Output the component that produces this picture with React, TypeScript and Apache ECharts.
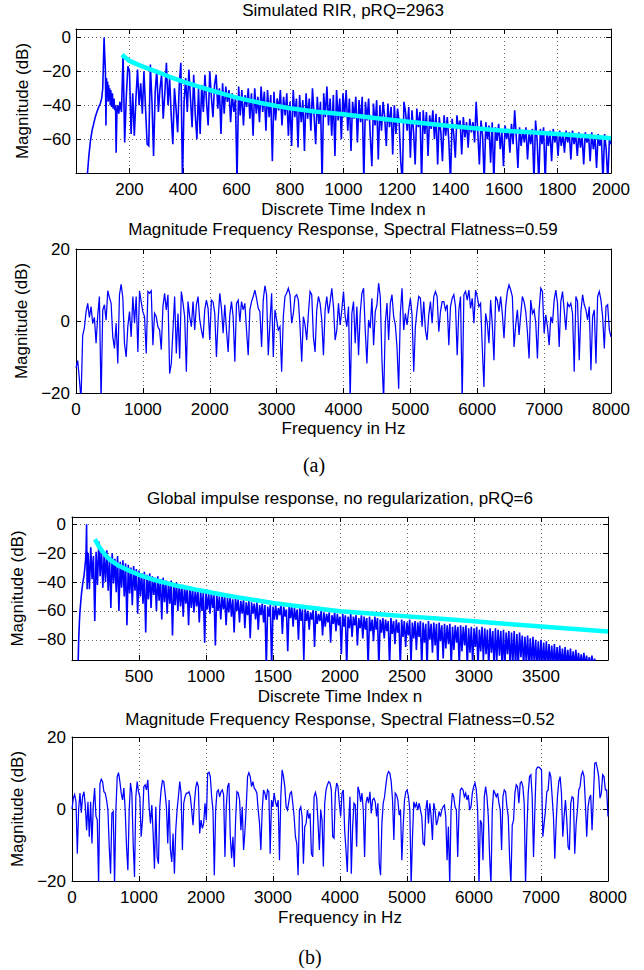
import { useEffect, useRef } from 'react';
import * as echarts from 'echarts';

// ---------- (a) Simulated RIR: magnitude (dB) vs discrete time index ----------
const rirAHeadN = [40, 43, 48, 54, 60, 66, 72, 78, 85, 91, 96, 100, 103, 105, 107, 110, 112, 114, 116, 118, 120, 122, 124, 126, 128, 130, 133, 136, 139, 142, 145, 148, 150, 153, 156, 160, 164];
const rirAHeadDb = [-88, -80, -70, -61, -55, -51, -47, -44, -41, -39, -36, -30, -12, 0, -9, -20, -52, -24, -35, -26, -38, -28, -37, -30, -40, -31, -41, -33, -42, -36, -43, -40, -68, -44, -40, -45, -38];
const rirAStart = 170;
const rirAEnd = 2000;
const rirADb = [
  -44, -10, -62, -35, -17, -20, -57, -33, -58, -36,
  -19, -40, -27, -45, -20, -42, -63, -64, -16, -38,
  -70, -32, -19, -44, -30, -22, -48, -33, -15, -40,
  -24, -46, -63, -30, -42, -56, -28, -15, -85, -38,
  -24, -44, -19, -36, -53, -22, -46, -60, -30, -57,
  -28, -44, -22, -38, -52, -20, -35, -47, -28, -22,
  -42, -30, -57, -27, -45, -29, -38, -31, -50, -33,
  -44, -36, -85, -29, -46, -31, -52, -34, -41, -30,
  -48, -33, -58, -30, -45, -35, -50, -29, -44, -32,
  -55, -31, -47, -34, -73, -32, -49, -36, -43, -31,
  -52, -35, -46, -33, -58, -38, -64, -31, -47, -36,
  -65, -34, -50, -37, -67, -33, -48, -36, -55, -30,
  -46, -63, -35, -51, -38, -85, -33, -47, -29, -52,
  -36, -58, -34, -70, -31, -49, -36, -60, -33, -47,
  -31, -55, -36, -67, -38, -48, -35, -62, -37, -50,
  -35, -85, -38, -49, -36, -58, -76, -39, -52, -37,
  -72, -40, -55, -38, -47, -64, -39, -53, -41, -69,
  -40, -57, -42, -50, -73, -85, -38, -44, -55, -41,
  -71, -43, -56, -75, -42, -53, -44, -85, -43, -57,
  -44, -70, -46, -54, -43, -60, -45, -75, -47, -56,
  -73, -46, -58, -47, -62, -85, -48, -57, -71, -46,
  -54, -49, -69, -47, -59, -50, -65, -48, -56, -50,
  -62, -38, -56, -75, -49, -58, -85, -50, -60, -52,
  -74, -50, -85, -53, -61, -51, -66, -55, -76, -52,
  -60, -54, -68, -51, -63, -43, -59, -77, -53, -64,
  -55, -62, -53, -72, -56, -63, -54, -85, -49, -61,
  -85, -54, -63, -53, -85, -56, -64, -55, -73, -54,
  -62, -56, -70, -55, -64, -57, -68, -55, -62, -56,
  -72, -55, -63, -57, -70, -56, -65, -58, -75, -56,
  -62, -57, -73, -56, -66, -58, -77, -57, -64, -59,
  -85, -57, -66, -85, -60, -63,
];
const decayAN = [172, 185, 200, 225, 250, 275, 300, 350, 400, 450, 500, 550, 600, 650, 700, 750, 800, 900, 1000, 1100, 1200, 1300, 1400, 1500, 1600, 1700, 1800, 1900, 2000];
const decayADb = [-10.2, -12, -13.8, -15.6, -17.2, -18.7, -20.1, -23.2, -26, -28.6, -31, -33.3, -35.5, -37.3, -39, -40.5, -41.8, -43.8, -45.3, -47.2, -49, -50.6, -52.2, -53.7, -55, -56, -57, -58.2, -59.5];

// ---------- (a) Magnitude frequency response, 0..8000 Hz uniform bins ----------
const specAMaxHz = 8000;
const specADb = [
  -13, -11, -16, -22, -4, -2, 2.5, 4.9, 1, 4,
  -0.7, 1, -6.2, 1.5, 6.8, -22, 3, 4.5, 0.2, 8.4,
  6.5, 5, -4.4, -7.6, -0.6, -11.8, 7.3, 10.2, 6.5, -6.2,
  -10, -1.5, 2.6, -4.4, 6.8, -0.6, 6.8, -8.6, 8.4, 5.3,
  2.6, 1.2, -9, 8.2, 7.7, 8.4, -6.7, 2.1, 1.2, -1.6,
  -2.5, -8, 4, 7.7, 3.1, 7.3, -14.6, -11.8, -2.5, 6.8,
  -9, 2.1, -10.4, 8.2, 5, 1.2, -14.1, 5.4, 1.2, -1.6,
  5.4, -2.5, 4.5, 6.8, 0.3, -2.5, -4.8, 3.1, 5.8, 3.5,
  -5.3, 5.8, 5.3, 2.1, -10, 0.3, 7.7, 3.5, -3.4, 4.5,
  -2.5, -8.6, 1.7, 5.4, 1.2, -11.3, 4.9, 5.8, -0.2, 5.4,
  3.1, 4.9, -2.5, -9.5, 3.1, 5.4, 6.8, 8.6, 6.3, 3.5,
  2.6, -7.2, 5.8, 9.8, 7.3, -9.5, -0.6, 7.7, -10, 3.1,
  0.3, -2.5, -1.6, -14.1, 1.2, 6.8, 7.7, 9.1, 7.3, -0.6,
  2.1, 6.8, 7.3, 5.8, -1.6, -11.3, 1.2, -1.1, -5.3, 2.1,
  8.2, 7.3, -4.4, -8.6, 3.1, 6.8, 4.9, 0.3,
  -9.5, 3.1, 6.8, 2.1, 5.4, 9.1, 4, -5.3, -2.5, 4.9, -1.1, 3.1,
  8.2, 1.2, -1.6, 4, -22, 2.1, 5.4, -6.2, 4, -9.5,
  2.1, 7.7, 9.1, -2.5, -11.8, 0.3, -2, 6.3, -6.7, 2.6,
  4.5, 10.5, 6.8, -10.9, -22, -0.6, 5, -5.3, 4.9, 7.3,
  1.2, -1.1, -7.2, -18.8, 2.1, 9.1, -2.5, 2.1, -1.1, 3.1,
  6.3, 1.7, -14.1, -1.6, 3.1, 6.8, 6.3, -1.6, 5.4, -2.5,
  -5.3, 1.7, 5.4, -0.6, 6.8, 8.2, 6.8, -3, 2.6, 5.4,
  5.4, 3.1, 4.5, -6.7, 4, 6.3, 7.3, 4, -9.5, 3.1,
  6.8, -22, 7.3, 8.2, 5.8, 8.6, 3.5, 6.3, -0.6, 8.6,
  6.8, 4, 4.9, -7.2, -18.3, 2.1, -0.6, -6.2, 5.8, -1.1,
  -10.9, 6.8, 5.8, 2.6, 6.8, 2.1, -4.8, 4, 8.2, 10,
  8.6, 6.8, -7.2, -1.1, 3.1, -3.9, 1.7, 6.8, 5.4, 2.6,
  -3, -10.4, 5.8, 2.1, 3.1, -0.6, -10.4, 3.1, 9.1, 8.2,
  -3.4, 1.7, -1.6, -6.7, 1.2, -0.6, 5.8, 8.6, 4.9, -7.2,
  5.4, 8.2, 3.1, -2.5, 4.9, 4, 4.9, 2.1, -14.1, 6.8,
  5.4, -10.9, 2.6, 7.3, 4.5, 3.1, 0.3, 4, -13.7, 1.2,
  3.1, -11.8, 6.8, 8.2, 5.8, 1.2, -7.6, 4, 4.5, -2.5, -4.4,
];

// ---------- (b) Global impulse response ----------
const rirBHeadN = [45, 50, 55, 59, 66, 72, 80, 89, 96, 101, 105, 109, 111, 113, 115, 117];
const rirBHeadDb = [-99, -80, -68, -61, -53, -47, -41, -36, -30, -25, -18, 0, -25, -45, -19, -40];
const rirBStart = 120;
const rirBEnd = 3930;
const rirBDb = [
  -20, -45, -16, -38, -22, -67, -19, -42, -12, -36,
  -17, -44, -21, -40, -18, -46, -23, -58, -20, -41,
  -24, -47, -22, -60, -26, -44, -25, -50, -27, -70,
  -28, -48, -30, -56, -29, -46, -31, -62, -32, -50,
  -34, -55, -33, -75, -35, -52, -34, -58, -36, -49,
  -37, -60, -36, -53, -38, -66, -37, -54, -39, -62,
  -40, -55, -39, -77, -41, -56, -40, -60, -42, -57,
  -42, -64, -43, -55, -44, -70, -43, -58, -45, -61,
  -45, -57, -46, -68, -46, -60, -47, -82, -47, -59,
  -48, -62, -47, -58, -49, -84, -48, -60, -50, -66,
  -49, -59, -50, -70, -51, -61, -50, -64, -52, -75,
  -51, -60, -52, -68, -53, -62, -52, -72, -54, -63,
  -53, -79, -54, -62, -55, -66, -54, -73, -56, -63,
  -55, -68, -56, -99, -57, -64, -56, -99, -57, -66,
  -56, -66, -58, -63, -55, -76, -57, -64, -59, -88,
  -57, -65, -56, -71, -58, -66, -59, -80, -57, -67,
  -59, -94, -58, -67, -60, -73, -61, -66, -59, -85,
  -60, -69, -62, -67, -60, -77, -61, -71, -62, -68,
  -61, -82, -63, -69, -61, -74, -62, -70, -64, -90,
  -62, -71, -63, -99, -64, -72, -62, -78, -64, -70,
  -63, -84, -65, -72, -63, -79, -64, -73, -65, -99,
  -64, -74, -66, -81, -64, -73, -65, -99, -66, -75,
  -65, -79, -66, -74, -67, -99, -65, -76, -67, -83,
  -66, -75, -68, -99, -66, -78, -67, -85, -68, -77,
  -66, -96, -68, -79, -67, -87, -68, -78, -67, -99,
  -68, -82, -69, -99, -67, -80, -69, -89, -68, -84,
  -69, -99, -68, -81, -70, -93, -69, -86, -70, -83,
  -69, -99, -71, -87, -70, -82, -71, -99, -70, -88,
  -71, -84, -70, -99, -72, -89, -71, -97, -72, -85,
  -71, -99, -73, -88, -71, -94, -72, -90, -73, -99,
  -72, -89, -74, -99, -72, -95, -73, -91, -74, -99,
  -73, -99, -75, -90, -74, -99, -75, -96, -74, -99,
  -76, -99, -75, -92, -77, -99, -78, -96, -77, -99,
  -79, -99, -78, -97, -80, -99, -81, -99, -80, -99,
  -82, -99, -81, -99, -83, -98, -84, -99, -83, -99,
  -85, -99, -84, -99, -86, -99, -85, -99, -87, -99,
  -86, -99, -88, -99, -87, -99, -89, -99, -90, -99,
  -89, -99, -91, -99, -92, -99, -91, -99, -93, -99, -95, -99,
];
const decayBN = [171, 190, 209, 230, 250, 284, 320, 350, 400, 450, 500, 550, 600, 650, 707, 775, 850, 925, 1003, 1125, 1250, 1375, 1500, 1625, 1750, 1875, 2000, 2250, 2500, 2750, 3000, 3250, 3500, 3750, 4000];
const decayBDb = [-10.4, -13.6, -16.6, -19.2, -21.5, -24.7, -27, -28.8, -31, -33.1, -35, -36.7, -38.2, -39.5, -40.8, -42.4, -43.8, -45.3, -46.6, -48.8, -50.8, -52.7, -54.5, -56, -57.5, -58.9, -60.2, -62, -63.8, -65.5, -67.2, -69, -70.8, -72.5, -74.2];

// ---------- (b) Magnitude frequency response, 0..8000 Hz uniform bins ----------
const specBMaxHz = 8000;
const specBDb = [
  0, 3, 4, 2, -12.4, 0, 4.4, -1, 3.5, 4.8, 1, -5.9, 2, -7.7, 2, -9.6, 1, 5.8, -2, -3, -21,
  7, 8.3, 7.6, 4.8, 4.4, 2.5, -0.3, -10.5, -18, -1.2,
  -0.7, -21, -0.3, 9, 10.1, 7.6, 4.4, 2.5, 5.8, -0.3,
  -10.5, -17, -0.3, 7.2, 4.4, -9.6, -18.9, 3.4, 7.6, 4.8,
  3.4, -7.7, -3.1, 6.2, 6.7, 5.3, 8.1, 0.6, -4, 1.1,
  -6.8, -16.6, 0.6, -13.3, -15.2, 0.6, 5.3, 7.9, 7.6, 4.4,
  0.6, -9.6, 2.5, -11.4, -14.7, -6.8, -18, -5.9, -0.3, 3.4,
  7.6, 4.4, -11.4, 1.6, 3.4, 4.4, 4.4, 4.8, 3.4, -0.3,
  -4.5, 1.6, 5.8, 7.6, 6.2, -6.8, -3.1, -5.4, -4, 1.6,
  -3.1, 9.9, 10.2, 9, 3.4, -0.3, -18.4, -0.3, 4.8, 5.3,
  3.4, 4.8, 5.3, 3.9, -13.3, 0.6, 6.2, 7.2, -7.7, -13.7,
  -7.7, -16.1, -3.1, 4.8, 4.4, 2.5, -5.9, 0.6, -11.4, -6.3,
  0.6, 9, 10.1, 9, 6.2, 7.6, 5.8, 5.3, 4.4, -0.3,
  -4, -11.4, -0.3, 5.3, 4.4, 2.5, 5.3, 4.8, -12.4, 2.5,
  0.6, 4.4, 2, 0.6, 2.5, -14.2, 3.4, 10.9, 9, 6.2,
  0.6, -0.3, 2, 4.4, 4.8, 1.6, -2.1, -7.7, -9.6, -18.4,
  -0.3, 0.6, -2.1, -15.2, -4.9, -4, -0.3, -2.6, -1.2, -12.4,
  -13.3, 3.4, 4.6, 3, -4, -11.4, -0.3, -3.1,
  -16, 1.6, 5.3, 6.7, 7.6, 7.2, 5.3, -7.7, -8.1, 4.4,
  7.2, 6.2, 1.6, -2.1, 4.4, 5.3, -5.9, -11.4, -17.5, -4,
  3.4, -18, -4.9, 1.6, 1.1, -10.5, 6.2, 4.8, 2, 4.4,
  -0.3, -13.3, 1.6, 3.4, 1.6, 4.8, -1.2, 2.5, 3, 2,
  -2.1, 1.6, -15.2, -18.4, -4, 1.6, 3.4, 6.7, 9.5, 10.4,
  9.9, 7.6, 2.5, -8.6, 4.4, 3.9, 2.5, -1.7, -0.3, -14.2,
  -4.9, 2.5, 4.8, 5.3, 3.4, -0.3, -21, -7.7, 2, 0.6,
  1.6, -0.3, 1.6, -0.3, -2.1, -9.6, -10, -0.3, 2.5, -4,
  1.6, -2.1, -8.6, 1.6, -0.3, -4.5, -3.1, -0.7, -2.1, -0.3,
  0.6, 1.1, -2.1, -14.2, -4.9, -21, -0.3, 4.4, 3.4, 0.6,
  -0.3, -13.3, -0.3, 5.3, 5.8, 5.3, 3.4, 4.4, 2.5, 3.9,
  -0.3, 0.6, 4.4, 6.2, 7.2, 5.3, -0.3, -21, -3.1, -4,
  -14.2, 3.4, 6.2, 3.4, -2.1, -13.3, -21, -0.3, 5.3, 4.4,
  3.4, 4.4, 1.6, -0.3, -11.4, 3.4, 5.3, 4.8, 0.6, -2.1,
  -13.3, -21, -4.5, -3.1, 4.4, 6.7, 6.2, 1.6, 7.2, 7.6,
  6.2, 1.6, -21, -5.9, 4.4, 9, 9.5, 3.4, -13.3, -0.3,
  10.9, 11.6, 11.6, 11.3, 10.9, -7.7, -4, -0.3, 4.8, 5.3,
  10.4, 9, 3.4, -2.1, -13.8, -4, 3.4, 7.6, 9, 4.4,
  -7.7, -2.1, 2.5, -3.1, -10.5, -11.4, 1.6, 3.4, 3, -12.4,
  -4.5, -0.3, 5.3, 6.2, 9.5, 10.4, 9, 1.6, -7.7, 0.6,
  3, 3.9, -5.9, 3, 12.7, 12.9, 11.3, 9, 3, 4.4,
  9.5, 9, 5.3, 5.3, -2.1,
];

// ---------- texts ----------
const titles = [
  'Simulated RIR, pRQ=2963',
  'Magnitude Frequency Response, Spectral Flatness=0.59',
  'Global impulse response, no regularization, pRQ=6',
  'Magnitude Frequency Response, Spectral Flatness=0.52',
];
const xNames = ['Discrete Time Index n', 'Frequency in Hz', 'Discrete Time Index n', 'Frequency in Hz'];
const yName = 'Magnitude (dB)';
const captions = ['(a)', '(b)'];

const SANS = '"Liberation Sans", Arial, Helvetica, sans-serif';
const SERIF = '"Liberation Serif", "Times New Roman", serif';
const BLUE = '#0000ff';
const CYAN = '#00ffff';

function uniformPairs(start: number, end: number, values: number[]) {
  const step = (end - start) / (values.length - 1);
  return values.map((v, i) => [start + i * step, v]);
}
function zipPairs(xs: number[], ys: number[]) {
  return xs.map((x, i) => [x, ys[i]]);
}
const minus = (v: number) => (v < 0 ? '\u2212' + String(-v) : String(v));

type AxisSpec = {
  grid: number;
  min: number;
  max: number;
  interval?: number;
  splitNumber?: number;
  show: (v: number) => boolean;
  margin: number;
  name?: string;
  nameGap?: number;
};

function makeAxes(spec: AxisSpec, horizontal: boolean) {
  const common: any = {
    gridIndex: spec.grid,
    type: 'value',
    min: spec.min,
    max: spec.max,
    axisLine: { show: true, onZero: false, lineStyle: { color: '#000', width: 1 } },
    axisTick: { show: true, inside: true, length: 5, lineStyle: { color: '#000', width: 1 } },
  };
  if (spec.interval != null) common.interval = spec.interval;
  if (spec.splitNumber != null) common.splitNumber = spec.splitNumber;
  const main: any = {
    ...common,
    position: horizontal ? 'bottom' : 'left',
    axisLabel: {
      show: true,
      margin: spec.margin,
      fontSize: 17,
      fontFamily: SANS,
      color: '#000',
      showMinLabel: true,
      showMaxLabel: true,
      formatter: (v: number) => (spec.show(v) ? minus(v) : ''),
    },
    splitLine: { show: true, lineStyle: { color: '#666', width: 1, type: [1, 3] } },
    name: spec.name,
    nameLocation: 'middle',
    nameGap: spec.nameGap,
    nameTextStyle: { fontSize: 17, fontFamily: SANS, color: '#000' },
  };
  const other: any = {
    ...common,
    position: horizontal ? 'top' : 'right',
    axisLabel: { show: false },
    splitLine: { show: false },
  };
  return [main, other];
}

export default function App() {
  const ref = useRef<HTMLDivElement>(null);

  useEffect(() => {
    if (!ref.current) return;
    const chart = echarts.init(ref.current, undefined, { renderer: 'svg' });

    const grids = [
      { left: 76, top: 29, width: 535, height: 144 },
      { left: 76, top: 249, width: 535, height: 144 },
      { left: 72, top: 517, width: 536, height: 143 },
      { left: 72, top: 737, width: 536, height: 144 },
    ];

    const xSpecs: AxisSpec[] = [
      { grid: 0, min: 0, max: 2000, interval: 200, show: (v) => v > 0, margin: 8, name: xNames[0], nameGap: 28 },
      { grid: 1, min: 0, max: 8000, interval: 1000, show: () => true, margin: 8, name: xNames[1], nameGap: 27 },
      { grid: 2, min: 0, max: 4000, interval: 500, show: (v) => v > 0 && v < 4000, margin: 8, name: xNames[2], nameGap: 28 },
      { grid: 3, min: 0, max: 8000, interval: 1000, show: () => true, margin: 8, name: xNames[3], nameGap: 28 },
    ];
    const ySpecs: AxisSpec[] = [
      { grid: 0, min: -80, max: 5, interval: 20, show: (v) => v % 20 === 0 && v > -80 && v <= 0, margin: 5, name: yName, nameGap: 44 },
      { grid: 1, min: -20, max: 20, interval: 20, show: () => true, margin: 6, name: yName, nameGap: 44 },
      { grid: 2, min: -94, max: 5, splitNumber: 5, show: (v) => v % 20 === 0 && v <= 0, margin: 6, name: yName, nameGap: 43 },
      { grid: 3, min: -20, max: 20, interval: 20, show: () => true, margin: 6, name: yName, nameGap: 43 },
    ];

    const xAxis: any[] = [];
    const yAxis: any[] = [];
    xSpecs.forEach((s) => xAxis.push(...makeAxes(s, true)));
    ySpecs.forEach((s) => yAxis.push(...makeAxes(s, false)));

    const rirA = [...zipPairs(rirAHeadN, rirAHeadDb), ...uniformPairs(rirAStart, rirAEnd, rirADb)];
    const rirB = [...zipPairs(rirBHeadN, rirBHeadDb), ...uniformPairs(rirBStart, rirBEnd, rirBDb)];
    const specA = uniformPairs(0, specAMaxHz, specADb);
    const specB = uniformPairs(0, specBMaxHz, specBDb);

    const blue = (data: number[][], g: number, width: number) => ({
      type: 'line',
      data,
      xAxisIndex: g * 2,
      yAxisIndex: g * 2,
      showSymbol: false,
      symbol: 'none',
      clip: true,
      silent: true,
      z: 2,
      lineStyle: { color: BLUE, width, join: 'miter' },
    });
    const cyan = (data: number[][], g: number) => ({
      type: 'line',
      data,
      xAxisIndex: g * 2,
      yAxisIndex: g * 2,
      showSymbol: false,
      symbol: 'none',
      clip: true,
      silent: true,
      z: 6,
      lineStyle: { color: CYAN, width: 4.5, cap: 'butt', join: 'round' },
    });

    const textEl = (text: string, x: number, y: number, family = SANS, size = 17) => ({
      type: 'text',
      x,
      y,
      silent: true,
      style: {
        text,
        font: `${size}px ${family}`,
        fill: '#000',
        align: 'center',
        verticalAlign: 'middle',
      },
    });

    chart.setOption({
      animation: false,
      backgroundColor: '#ffffff',
      grid: grids,
      xAxis,
      yAxis,
      series: [
        blue(rirA, 0, 1.6),
        cyan(zipPairs(decayAN, decayADb), 0),
        blue(specA, 1, 1.25),
        blue(rirB, 2, 1.6),
        cyan(zipPairs(decayBN, decayBDb), 2),
        blue(specB, 3, 1.25),
      ],
      graphic: [
        textEl(titles[0], 343, 10),
        textEl(titles[1], 343, 229.5),
        textEl(titles[2], 340, 498.5),
        textEl(titles[3], 340, 719),
        textEl(captions[0], 314, 465, SERIF, 20),
        textEl(captions[1], 310, 957, SERIF, 20),
      ],
    });

    return () => chart.dispose();
  }, []);

  return (
    <div
      ref={ref}
      style={{ position: 'fixed', left: 0, top: 0, width: 644, height: 970, background: '#fff' }}
    />
  );
}
